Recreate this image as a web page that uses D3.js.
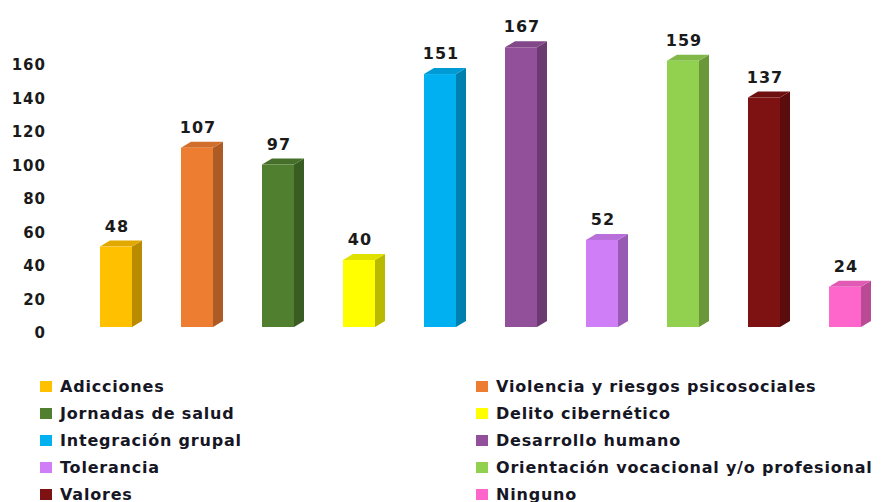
<!DOCTYPE html>
<html><head><meta charset="utf-8">
<script src="https://cdn.jsdelivr.net/npm/d3@7"></script>
<style>body{margin:0;background:#fff}svg{display:block}</style>
</head><body><svg id="c" width="882" height="502"></svg>
<script>
const categories = ["Adicciones","Violencia y riesgos psicosociales","Jornadas de salud","Delito cibernético","Integración grupal","Desarrollo humano","Tolerancia","Orientación vocacional y/o profesional","Valores","Ninguno"];
const values = [48,107,97,40,151,167,52,159,137,24];
const colors = ["#FFC000","#ED7D31","#4F7F2F","#FFFF00","#00B0F0","#93509A","#D07EF7","#92D050","#7E1212","#FF66CC"];
const tickValues = [0,20,40,60,80,100,120,140,160];

const svg = d3.select("#c");
const font = "'DejaVu Sans', Verdana, sans-serif";
const y = d3.scaleLinear().domain([0,160]).range([333,65]);
const x = d3.scalePoint().domain(categories).range([116,845]);
const bw = 32, dx = 10, dy = 6, lift = 6;

// axis (labels only)
const ax = svg.append("g").attr("transform","translate(46,0)")
  .call(d3.axisLeft(y).tickValues(tickValues).tickSize(0).tickPadding(0));
ax.select(".domain").remove();
ax.selectAll("text").attr("font-family",font).attr("font-weight","bold")
  .attr("font-size",15).attr("letter-spacing",1).attr("fill","#1a1a1a");

const g = svg.append("g");
const bars = g.selectAll("g.bar").data(categories).join("g").attr("class","bar");
bars.each(function(c,i){
  const sel = d3.select(this);
  const x0 = x(c) - bw/2, x1 = x0 + bw;
  const yb = y(0) - lift, yt = y(values[i]) - lift;
  const col = d3.color(colors[i]);
  // side
  sel.append("path").attr("d",`M${x1},${yt}L${x1+dx},${yt-dy}L${x1+dx},${yb-dy}L${x1},${yb}Z`)
    .attr("fill",col.darker(0.9));
  // top
  sel.append("path").attr("d",`M${x0},${yt}L${x0+dx},${yt-dy}L${x1+dx},${yt-dy}L${x1},${yt}Z`)
    .attr("fill",col.darker(0.35));
  // front
  sel.append("rect").attr("x",x0).attr("y",yt).attr("width",bw).attr("height",yb-yt).attr("fill",col);
  sel.append("text").attr("x",x(c)+1).attr("y",yt-dy-9).attr("text-anchor","middle")
    .attr("font-family",font).attr("font-weight","bold").attr("font-size",16).attr("letter-spacing",1)
    .attr("fill","#1a1a1a").text(values[i]);
});

// legend
const lg = svg.append("g");
categories.forEach((c,i)=>{
  const col = i%2, row = Math.floor(i/2);
  const lx = col===0 ? 40 : 476, ly = 387 + row*27;
  lg.append("rect").attr("x",lx).attr("y",ly-6).attr("width",12).attr("height",11).attr("fill",colors[i]);
  lg.append("text").attr("x",lx+20).attr("y",ly+5).attr("font-family",font).attr("font-weight","bold")
    .attr("font-size",16).attr("letter-spacing",0.8).attr("fill","#161625").text(c);
});
</script></body></html>
